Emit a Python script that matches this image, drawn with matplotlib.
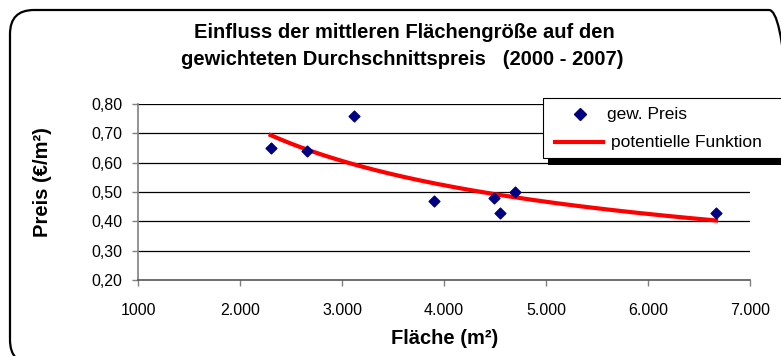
import numpy as np
import matplotlib
matplotlib.use("Agg")
import matplotlib.pyplot as plt
from matplotlib.patches import FancyBboxPatch, Rectangle
from matplotlib.lines import Line2D
from matplotlib.transforms import IdentityTransform
from matplotlib.ticker import FixedLocator

plt.rcParams['font.family'] = ['Liberation Sans', 'DejaVu Sans']

# data
flaeche = [2300, 2660, 3120, 3900, 4490, 4550, 4700, 6667]
preis = [0.65, 0.64, 0.76, 0.47, 0.48, 0.43, 0.50, 0.43]
x_ticks = [1000, 2000, 3000, 4000, 5000, 6000, 7000]
x_tick_labels = ["1000", "2.000", "3.000", "4.000", "5.000", "6.000", "7.000"]
y_ticks = [0.20, 0.30, 0.40, 0.50, 0.60, 0.70, 0.80]
y_tick_labels = ["0,20", "0,30", "0,40", "0,50", "0,60", "0,70", "0,80"]

W, H = 781, 356
fig = plt.figure(figsize=(W / 100, H / 100), dpi=100)
fig.patch.set_facecolor("white")
I = IdentityTransform()

def px(x, y):
    """pixel position measured from top-left -> display coords"""
    return x, H - y

# rounded chart border (pixel coords)
border = FancyBboxPatch((10, -8), 783, 354,
                        boxstyle="round,pad=0,rounding_size=24",
                        transform=I, fill=False,
                        edgecolor="black", linewidth=1.6)
fig.patches.append(border)

ax = fig.add_axes([138 / W, 1 - 280 / H, (750 - 138) / W, (280 - 104) / H])
ax.set_xlim(1000, 7000)
ax.set_ylim(0.20, 0.80)
ax.set_facecolor("none")

ax.xaxis.set_major_locator(FixedLocator(x_ticks))
ax.set_xticklabels(x_tick_labels, fontsize=11.5)
ax.yaxis.set_major_locator(FixedLocator(y_ticks))
ax.set_yticklabels(y_tick_labels, fontsize=11.5)
ax.tick_params(axis='both', direction='out', length=4.5, width=1, color='#808080')
ax.tick_params(axis='y', pad=7)
ax.tick_params(axis='x', pad=12)

for y in y_ticks[1:]:
    ax.axhline(y, color='black', linewidth=0.9, zorder=1)
for s in ['top', 'right']:
    ax.spines[s].set_visible(False)
ax.spines['left'].set_color('#808080')
ax.spines['bottom'].set_color('#555555')
ax.spines['left'].set_linewidth(1.2)
ax.spines['bottom'].set_linewidth(1.2)

# power trend line
lx, ly = np.log(flaeche), np.log(preis)
b, lna = np.polyfit(lx, ly, 1)
xs = np.linspace(min(flaeche), max(flaeche), 200)
ys = np.exp(lna) * xs ** b

ax.scatter(flaeche, preis, marker='D', s=30, color='#000080', zorder=3, label='gew. Preis')
ax.plot(xs, ys, color='#ff0000', linewidth=3, zorder=2, label='potentielle Funktion')

fig.text(445 / W, 1 - 339 / H, "Fläche (m²)", ha='center', va='center',
         fontsize=14.5, fontweight='bold')
fig.text(42 / W, 1 - 182 / H, "Preis (€/m²)", ha='center', va='center',
         rotation=90, fontsize=14.5, fontweight='bold')

fig.text(404 / W, 1 - 38 / H, "Einfluss der mittleren Flächengröße auf den",
         ha='center', va='baseline', fontsize=14.5, fontweight='bold')
fig.text(402 / W, 1 - 65 / H, "gewichteten Durchschnittspreis   (2000 - 2007)",
         ha='center', va='baseline', fontsize=14.5, fontweight='bold')

# legend (drawn in pixel coordinates)
fig.patches.append(Rectangle(px(548, 165), 240, 7, transform=I,
                             facecolor='black', edgecolor='none', zorder=4))
fig.patches.append(Rectangle(px(543, 158), 245, 60, transform=I,
                             facecolor='white', edgecolor='black', linewidth=0.8, zorder=5))
fig.lines.append(Line2D([580], [H - 114], transform=I, marker='D', markersize=6.5,
                        color='#000080', linestyle='none', zorder=6))
fig.lines.append(Line2D([555, 603], [H - 142, H - 142], transform=I,
                        color='#ff0000', linewidth=3, zorder=6))
fig.text(607 / W, 1 - 114 / H, "gew. Preis", ha='left', va='center',
         fontsize=12.5, zorder=7)
fig.text(611 / W, 1 - 142 / H, "potentielle Funktion", ha='left', va='center',
         fontsize=12.5, zorder=7)

fig.savefig("out.png", dpi=100)
